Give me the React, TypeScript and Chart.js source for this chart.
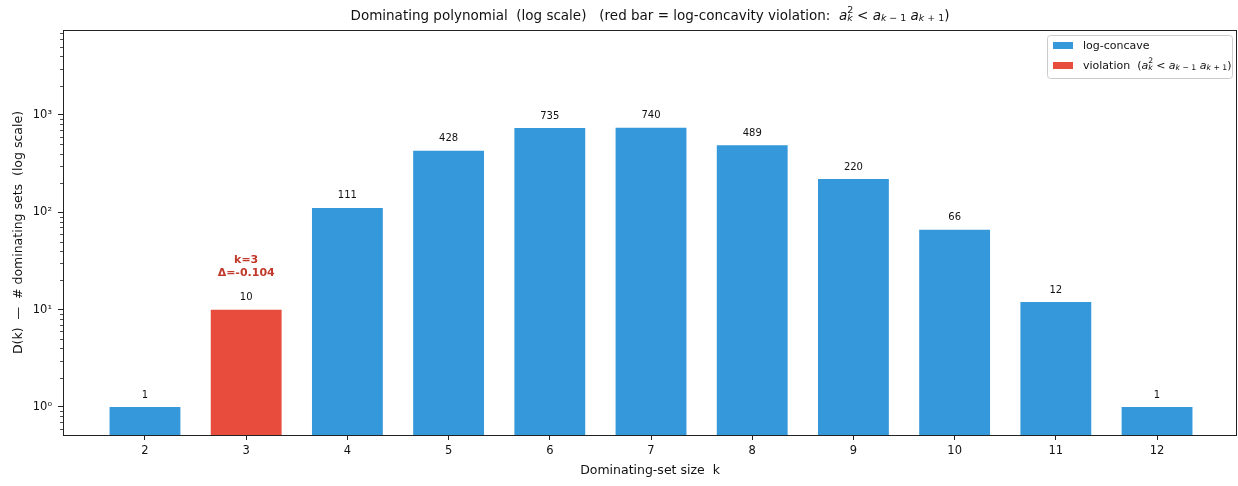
import React, { useEffect, useRef } from "react";
import { Chart, registerables } from "chart.js";

Chart.register(...registerables);

const categories = [2, 3, 4, 5, 6, 7, 8, 9, 10, 11, 12];
const counts = [1, 10, 111, 428, 735, 740, 489, 220, 66, 12, 1];
const violationK = [3];
const violationDeltas = ["Δ=-0.104"];
const yMajorTicks = [1, 10, 100, 1000];
const yTickLabels = ["10⁰", "10¹", "10²", "10³"];

const BLUE = "#3498db";
const RED = "#e74c3c";
const DARK_RED = "#c0392b";
const FONT = '"DejaVu Sans", sans-serif';

type Run = { t: string; it?: boolean; s?: number; dy?: number; adv?: boolean };

const mathRuns = (): Run[] => [
  { t: "a", it: true },
  { t: "2", s: 0.7, dy: -0.42, adv: false },
  { t: "k", it: true, s: 0.7, dy: 0.22 },
  { t: " < " },
  { t: "a", it: true },
  { t: "k", it: true, s: 0.7, dy: 0.22 },
  { t: " − 1", s: 0.7, dy: 0.22 },
  { t: " " },
  { t: "a", it: true },
  { t: "k", it: true, s: 0.7, dy: 0.22 },
  { t: " + 1", s: 0.7, dy: 0.22 },
];

function runFont(r: Run, size: number, bold = false) {
  return `${r.it ? "italic " : ""}${bold ? "bold " : ""}${size * (r.s || 1)}px ${FONT}`;
}

function measureRuns(ctx: CanvasRenderingContext2D, runs: Run[], size: number) {
  let w = 0;
  for (const r of runs) {
    ctx.font = runFont(r, size);
    const rw = ctx.measureText(r.t).width;
    if (r.adv !== false) w += rw;
  }
  return w;
}

function drawRuns(ctx: CanvasRenderingContext2D, runs: Run[], x: number, y: number, size: number, color: string) {
  ctx.save();
  ctx.fillStyle = color;
  ctx.textBaseline = "middle";
  ctx.textAlign = "left";
  let cx = x;
  for (const r of runs) {
    ctx.font = runFont(r, size);
    ctx.fillText(r.t, cx, y + (r.dy || 0) * size);
    if (r.adv !== false) cx += ctx.measureText(r.t).width;
  }
  ctx.restore();
}

const decorPlugin = {
  id: "decor",
  afterDatasetsDraw(chart: any) {
    const { ctx, chartArea } = chart;
    const ys = chart.scales.y;
    const meta = chart.getDatasetMeta(0);
    ctx.save();
    // minor ticks on log axis
    ctx.strokeStyle = "#222";
    ctx.lineWidth = 0.8;
    for (let e = -1; e <= 3; e++) {
      for (let m = 2; m <= 9; m++) {
        const v = m * Math.pow(10, e);
        if (v < ys.min || v > ys.max) continue;
        const py = Math.round(ys.getPixelForValue(v)) + 0.5;
        ctx.beginPath();
        ctx.moveTo(chartArea.left, py);
        ctx.lineTo(chartArea.left - 3, py);
        ctx.stroke();
      }
    }
    // frame
    ctx.strokeStyle = "#222";
    ctx.lineWidth = 1;
    ctx.strokeRect(chartArea.left + 0.5, chartArea.top + 0.5, chartArea.right - chartArea.left - 1, chartArea.bottom - chartArea.top);

    // value labels
    ctx.fillStyle = "#111";
    ctx.textAlign = "center";
    ctx.textBaseline = "middle";
    ctx.font = `10px ${FONT}`;
    meta.data.forEach((bar: any, i: number) => {
      ctx.fillText(String(counts[i]), bar.x, bar.y - 12);
    });
    // violation annotations
    ctx.fillStyle = DARK_RED;
    ctx.font = `bold 11px ${FONT}`;
    violationK.forEach((k, j) => {
      const i = categories.indexOf(k);
      const bar: any = meta.data[i];
      ctx.fillText(`k=${k}`, bar.x, bar.y - 49);
      ctx.fillText(violationDeltas[j], bar.x, bar.y - 36);
    });

    // title
    const tsize = 13.5;
    const head: Run[] = [{ t: "Dominating polynomial  (log scale)   (red bar = log-concavity violation:  " }];
    const tRuns = [...head, ...mathRuns(), { t: ")" }];
    const tw = measureRuns(ctx, tRuns, tsize);
    drawRuns(ctx, tRuns, (chartArea.left + chartArea.right) / 2 - tw / 2, 16, tsize, "#111");

    // legend
    const lx = 1047, ly = 35, lw = 185, lh = 43;
    ctx.fillStyle = "rgba(255,255,255,0.8)";
    ctx.strokeStyle = "#cccccc";
    ctx.lineWidth = 1;
    ctx.beginPath();
    (ctx as any).roundRect(lx + 0.5, ly + 0.5, lw, lh, 3);
    ctx.fill();
    ctx.stroke();
    const lsize = 11;
    ctx.fillStyle = BLUE;
    ctx.fillRect(lx + 6, ly + 7, 20, 7);
    ctx.fillStyle = RED;
    ctx.fillRect(lx + 6, ly + 27, 20, 7);
    drawRuns(ctx, [{ t: "log-concave" }], lx + 36, ly + 11, lsize, "#111");
    drawRuns(ctx, [{ t: "violation  (" }, ...mathRuns(), { t: ")" }], lx + 36, ly + 31, lsize, "#111");
    ctx.restore();
  },
};

export default function App() {
  const ref = useRef<HTMLCanvasElement>(null);
  useEffect(() => {
    document.body.style.margin = "0";
    Chart.defaults.font.family = FONT;
    Chart.defaults.color = "#111";
    const chart = new Chart(ref.current!, {
      type: "bar",
      data: {
        datasets: [
          {
            label: "D(k)",
            data: categories.map((k, i) => ({ x: k, y: counts[i] })),
            backgroundColor: categories.map((k) => (violationK.includes(k) ? RED : BLUE)),
            borderWidth: 0,
            barPercentage: 0.7,
            categoryPercentage: 1.0,
          },
        ],
      },
      options: {
        responsive: false,
        animation: false,
        layout: { padding: { top: 30, right: 1, left: 0, bottom: 0 } },
        plugins: { legend: { display: false }, title: { display: false }, tooltip: { enabled: false } },
        scales: {
          x: {
            type: "linear",
            min: 1.19,
            max: 12.79,
            offset: false,
            afterBuildTicks: (scale: any) => {
              scale.ticks = categories.map((v) => ({ value: v }));
            },
            afterFit: (scale: any) => {
              scale.height = 51;
            },
            ticks: { font: { size: 11.5 }, padding: 4, callback: (v: any) => String(v) },
            grid: { offset: false, drawOnChartArea: false, drawTicks: true, tickLength: 5, tickColor: "#222" },
            border: { display: false },
            title: { display: true, text: "Dominating-set size  k", font: { size: 12.5 }, padding: { top: 0, bottom: 8 } },
          },
          y: {
            type: "logarithmic",
            min: 0.515,
            max: 7470,
            afterBuildTicks: (scale: any) => {
              scale.ticks = yMajorTicks.map((v) => ({ value: v }));
            },
            afterFit: (scale: any) => {
              scale.width = 63;
            },
            ticks: {
              font: { size: 11.5 },
              padding: 6,
              callback: (v: any) => {
                const i = yMajorTicks.indexOf(Number(v));
                return i >= 0 ? yTickLabels[i] : "";
              },
            },
            grid: { drawOnChartArea: false, drawTicks: true, tickLength: 5, tickColor: "#222" },
            border: { display: false },
            title: {
              display: true,
              text: "D(k)  —  # dominating sets  (log scale)",
              font: { size: 12.5 },
              padding: { top: 11, bottom: 0 },
            },
          },
        },
      },
      plugins: [decorPlugin],
    } as any);
    return () => chart.destroy();
  }, []);
  return (
    <div style={{ width: 1238, height: 486 }}>
      <canvas ref={ref} width={1238} height={486} />
    </div>
  );
}
